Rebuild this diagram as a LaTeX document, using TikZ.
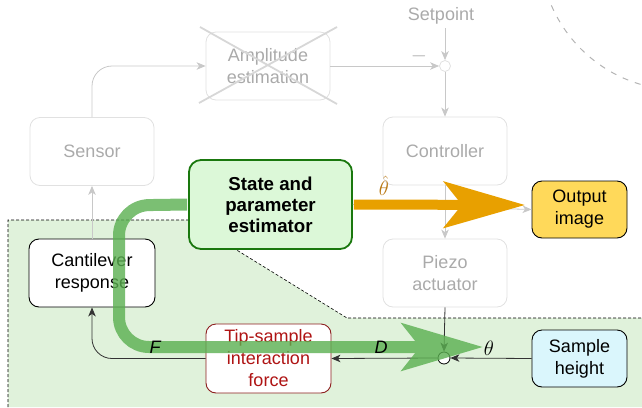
\documentclass[tikz,border=0pt]{standalone}
\usepackage{fontspec}
\setmainfont{Liberation Sans}
\usetikzlibrary{arrows.meta}
\definecolor{gborder}{RGB}{225,225,225}
\definecolor{gtext}{RGB}{170,170,170}
\definecolor{garr}{RGB}{200,200,200}
\definecolor{gcross}{RGB}{215,215,215}
\definecolor{regionfill}{RGB}{224,242,219}
\definecolor{estfill}{RGB}{220,248,216}
\definecolor{estborder}{RGB}{26,120,14}
\definecolor{outfill}{RGB}{255,217,90}
\definecolor{samplefill}{RGB}{218,246,252}
\definecolor{tipborder}{RGB}{140,30,30}
\definecolor{tiptext}{RGB}{175,20,20}
\definecolor{orangeA}{RGB}{232,160,0}
\definecolor{thetahat}{RGB}{185,120,20}
\definecolor{greenA}{RGB}{90,175,80}
\definecolor{arcgray}{RGB}{180,180,180}
\tikzset{
  gbox/.style={draw=gborder, line width=0.8pt, rounded corners=10pt, text=gtext, align=center,
    minimum width=124pt, minimum height=68pt, inner sep=0pt},
  bbox/.style={draw=black, line width=0.9pt, rounded corners=10pt, align=center, inner sep=0pt},
  garrow/.style={draw=garr, line width=0.8pt, -{Stealth[length=9pt,width=7.5pt,inset=2.5pt]}},
  barrow/.style={draw=black!80, line width=0.8pt, -{Stealth[length=9pt,width=7.5pt,inset=2.5pt]}},
  lbl/.style={inner sep=0pt},
  mlbl/.style={inner sep=0pt, font=\fontsize{20}{24}\selectfont},
}
\begin{document}
\begin{tikzpicture}[x=1pt,y=-1pt,font=\fontsize{18}{22}\selectfont]
\useasboundingbox (0,0) rectangle (642,407);
% region
\fill[regionfill] (8,220) -- (188,220) -- (347,318) -- (642,318) -- (642,407) -- (8,407) -- cycle;
\draw[line width=0.6pt, dash pattern=on 3pt off 2pt] (8,407) -- (8,220) -- (188,220) -- (347,318) -- (642,318);
% arc
\begin{scope}
\clip (0,0) rectangle (642,407);
\draw[arcgray, line width=1pt, dash pattern=on 6pt off 7pt] (680,-50) circle[radius=140];
\end{scope}
% gray nodes
\node[gbox] (sensor) at (92,151.5) {Sensor};
\node[gbox, minimum height=68pt] (amp) at (268,66) {Amplitude\\estimation};
\node[gbox] (ctrl) at (445,151) {Controller};
\node[gbox] (piezo) at (445,273) {Piezo\\actuator};
\node[text=gtext, lbl] (setp) at (441,16) {Setpoint};
\coordinate (setpb) at (445,28);
\node[circle, draw=gborder, line width=0.8pt, minimum size=11pt, inner sep=0pt] (sum) at (445,66) {};
\draw[gcross, line width=1.8pt] (200,27) -- (337,104) (199,103) -- (337,27);
\node[text=gtext, mlbl] (minus) at (419,56) {$-$};
% black nodes
\node[bbox, fill=white, minimum width=126pt, minimum height=68pt] (cant) at (92,273) {Cantilever\\response};
\node[bbox, draw=tipborder, text=tiptext, fill=white, minimum width=125pt, minimum height=69pt] (tip) at (268.5,358.5) {Tip-sample\\interaction\\force};
\node[bbox, fill=samplefill, minimum width=95pt, minimum height=57pt] (sample) at (579.5,358.5) {Sample\\height};
\node[bbox, fill=outfill, minimum width=95pt, minimum height=57pt] (out) at (579.5,209.5) {Output\\image};
\node[circle, draw=black, fill=white, line width=0.8pt, minimum size=12pt, inner sep=0pt] (junc) at (444,358) {};
% gray arrows
\draw[garrow, rounded corners=20pt] (sensor.north) |- (amp.west);
\draw[garrow] (amp.east) -- (sum.west);
\draw[garrow] (setpb) -- (sum.north);
\draw[garrow] (sum.south) -- (ctrl.north);
\draw[garrow] (ctrl.south) -- (piezo.north);
\draw[garrow] (cant.north) -- (sensor.south);
% black arrows
\draw[barrow] (piezo.south) -- (junc.north);
\draw[barrow] (sample.west) -- (junc.east);
\draw[barrow] (junc.west) -- (tip.east);
\draw[barrow, rounded corners=20pt] (tip.west) -| (cant.south);
% estimator
\node[draw=estborder, fill=estfill, line width=1.8pt, rounded corners=12pt, align=center,
  minimum width=163pt, minimum height=89pt, inner sep=0pt, font=\fontsize{18.7}{21}\selectfont\bfseries] (est) at (270.5,204.5) {State and\\parameter\\estimator};
\draw[garrow] (est.east) -- (out.west);
\draw[orangeA, line width=10pt, -{Stealth[length=81pt,width=46pt,inset=18pt]}] ([xshift=1pt]est.east) -- (525,205);
\node[mlbl, text=thetahat] (thh) at (384,186) {$\hat\theta$};
% green arrow
\begin{scope}[transparency group, opacity=0.8]
\draw[greenA, line width=12pt, rounded corners=30pt, -{Stealth[length=81pt,width=47pt,inset=18pt]}]
  ([xshift=-1pt]est.west) -- (119,205.5) -- (119,347) -- (483,347);
\end{scope}
% labels on top
\node[mlbl] (theta) at (489,348) {$\theta$};
\node[lbl] (dlbl) at (381,347) {\itshape D};
\node[lbl] (flbl) at (155,347) {\itshape F};
\end{tikzpicture}
\end{document}
